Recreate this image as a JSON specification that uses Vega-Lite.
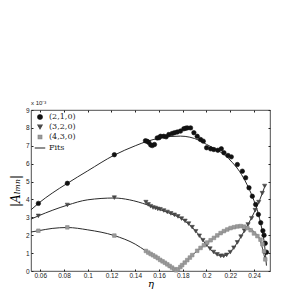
{
  "$schema": "https://vega.github.io/schema/vega-lite/v6.json",
  "width": 239,
  "height": 161,
  "autosize": {"type": "none"},
  "padding": {"left": 31, "top": 110, "right": 22, "bottom": 26},
  "background": "white",
  "config": {
    "view": {"stroke": "#222", "strokeWidth": 0.8},
    "axis": {"labelFont": "Liberation Sans", "labelFontSize": 6.5, "labelColor": "#222", "tickColor": "#222", "domain": false, "grid": false},
    "legend": {"orient": "top-left", "offset": 3, "padding": 0, "rowPadding": 0, "labelFont": "DejaVu Serif", "labelFontSize": 8, "labelColor": "#222", "labelOffset": 3, "symbolStrokeWidth": 1.1, "title": null}
  },
  "title": {"text": "x 10⁻³", "anchor": "start", "frame": "group", "font": "Liberation Sans", "fontSize": 6, "fontWeight": "normal", "color": "#222", "offset": 1},
  "datasets": {
    "points": [
      {"series": "(2,1,0)", "eta": 0.0584, "A": 3.78},
      {"series": "(2,1,0)", "eta": 0.0828, "A": 4.9},
      {"series": "(2,1,0)", "eta": 0.1224, "A": 6.5},
      {"series": "(2,1,0)", "eta": 0.1486, "A": 7.28},
      {"series": "(2,1,0)", "eta": 0.15, "A": 7.25},
      {"series": "(2,1,0)", "eta": 0.1514, "A": 7.19},
      {"series": "(2,1,0)", "eta": 0.153, "A": 7.05},
      {"series": "(2,1,0)", "eta": 0.1543, "A": 7.01},
      {"series": "(2,1,0)", "eta": 0.1562, "A": 7.07},
      {"series": "(2,1,0)", "eta": 0.1585, "A": 7.44},
      {"series": "(2,1,0)", "eta": 0.16, "A": 7.45},
      {"series": "(2,1,0)", "eta": 0.1613, "A": 7.53},
      {"series": "(2,1,0)", "eta": 0.164, "A": 7.53},
      {"series": "(2,1,0)", "eta": 0.166, "A": 7.5},
      {"series": "(2,1,0)", "eta": 0.1683, "A": 7.63},
      {"series": "(2,1,0)", "eta": 0.1711, "A": 7.69},
      {"series": "(2,1,0)", "eta": 0.1731, "A": 7.73},
      {"series": "(2,1,0)", "eta": 0.1754, "A": 7.77},
      {"series": "(2,1,0)", "eta": 0.1781, "A": 7.82},
      {"series": "(2,1,0)", "eta": 0.1809, "A": 7.95},
      {"series": "(2,1,0)", "eta": 0.1825, "A": 7.98},
      {"series": "(2,1,0)", "eta": 0.1838, "A": 8.0},
      {"series": "(2,1,0)", "eta": 0.1866, "A": 8.0},
      {"series": "(2,1,0)", "eta": 0.1894, "A": 7.73},
      {"series": "(2,1,0)", "eta": 0.1922, "A": 7.53},
      {"series": "(2,1,0)", "eta": 0.195, "A": 7.35},
      {"series": "(2,1,0)", "eta": 0.1973, "A": 7.26},
      {"series": "(2,1,0)", "eta": 0.2001, "A": 6.89},
      {"series": "(2,1,0)", "eta": 0.2035, "A": 6.83},
      {"series": "(2,1,0)", "eta": 0.2062, "A": 6.79},
      {"series": "(2,1,0)", "eta": 0.2096, "A": 6.75},
      {"series": "(2,1,0)", "eta": 0.2125, "A": 6.83},
      {"series": "(2,1,0)", "eta": 0.2147, "A": 6.61},
      {"series": "(2,1,0)", "eta": 0.2181, "A": 6.46},
      {"series": "(2,1,0)", "eta": 0.2209, "A": 6.38},
      {"series": "(2,1,0)", "eta": 0.226, "A": 5.95},
      {"series": "(2,1,0)", "eta": 0.2302, "A": 5.58},
      {"series": "(2,1,0)", "eta": 0.233, "A": 5.21},
      {"series": "(2,1,0)", "eta": 0.2358, "A": 4.65},
      {"series": "(2,1,0)", "eta": 0.2386, "A": 4.18},
      {"series": "(2,1,0)", "eta": 0.2414, "A": 3.72},
      {"series": "(2,1,0)", "eta": 0.2437, "A": 3.16},
      {"series": "(2,1,0)", "eta": 0.2457, "A": 2.7},
      {"series": "(2,1,0)", "eta": 0.2475, "A": 2.25},
      {"series": "(2,1,0)", "eta": 0.2485, "A": 2.0},
      {"series": "(2,1,0)", "eta": 0.2495, "A": 1.55},
      {"series": "(2,1,0)", "eta": 0.2505, "A": 1.05},
      {"series": "(3,2,0)", "eta": 0.0584, "A": 3.08},
      {"series": "(3,2,0)", "eta": 0.0828, "A": 3.69},
      {"series": "(3,2,0)", "eta": 0.1224, "A": 4.1},
      {"series": "(3,2,0)", "eta": 0.149, "A": 3.85},
      {"series": "(3,2,0)", "eta": 0.151, "A": 3.72},
      {"series": "(3,2,0)", "eta": 0.153, "A": 3.62},
      {"series": "(3,2,0)", "eta": 0.155, "A": 3.55},
      {"series": "(3,2,0)", "eta": 0.157, "A": 3.52},
      {"series": "(3,2,0)", "eta": 0.159, "A": 3.47},
      {"series": "(3,2,0)", "eta": 0.161, "A": 3.45},
      {"series": "(3,2,0)", "eta": 0.164, "A": 3.38},
      {"series": "(3,2,0)", "eta": 0.167, "A": 3.3},
      {"series": "(3,2,0)", "eta": 0.17, "A": 3.22},
      {"series": "(3,2,0)", "eta": 0.173, "A": 3.14},
      {"series": "(3,2,0)", "eta": 0.176, "A": 3.05},
      {"series": "(3,2,0)", "eta": 0.179, "A": 2.93},
      {"series": "(3,2,0)", "eta": 0.182, "A": 2.8},
      {"series": "(3,2,0)", "eta": 0.185, "A": 2.65},
      {"series": "(3,2,0)", "eta": 0.188, "A": 2.45},
      {"series": "(3,2,0)", "eta": 0.191, "A": 2.22},
      {"series": "(3,2,0)", "eta": 0.194, "A": 1.97},
      {"series": "(3,2,0)", "eta": 0.197, "A": 1.72},
      {"series": "(3,2,0)", "eta": 0.2, "A": 1.47},
      {"series": "(3,2,0)", "eta": 0.203, "A": 1.25},
      {"series": "(3,2,0)", "eta": 0.206, "A": 1.06},
      {"series": "(3,2,0)", "eta": 0.209, "A": 0.93},
      {"series": "(3,2,0)", "eta": 0.212, "A": 0.85},
      {"series": "(3,2,0)", "eta": 0.2145, "A": 0.84},
      {"series": "(3,2,0)", "eta": 0.217, "A": 0.9},
      {"series": "(3,2,0)", "eta": 0.22, "A": 1.05},
      {"series": "(3,2,0)", "eta": 0.223, "A": 1.3},
      {"series": "(3,2,0)", "eta": 0.226, "A": 1.6},
      {"series": "(3,2,0)", "eta": 0.229, "A": 1.92},
      {"series": "(3,2,0)", "eta": 0.232, "A": 2.25},
      {"series": "(3,2,0)", "eta": 0.235, "A": 2.6},
      {"series": "(3,2,0)", "eta": 0.238, "A": 2.95},
      {"series": "(3,2,0)", "eta": 0.241, "A": 3.4},
      {"series": "(3,2,0)", "eta": 0.244, "A": 3.85},
      {"series": "(3,2,0)", "eta": 0.247, "A": 4.35},
      {"series": "(3,2,0)", "eta": 0.249, "A": 4.75},
      {"series": "(4,3,0)", "eta": 0.0584, "A": 2.25},
      {"series": "(4,3,0)", "eta": 0.0828, "A": 2.44},
      {"series": "(4,3,0)", "eta": 0.1224, "A": 1.98},
      {"series": "(4,3,0)", "eta": 0.149, "A": 1.12},
      {"series": "(4,3,0)", "eta": 0.151, "A": 1.03},
      {"series": "(4,3,0)", "eta": 0.153, "A": 0.95},
      {"series": "(4,3,0)", "eta": 0.155, "A": 0.88},
      {"series": "(4,3,0)", "eta": 0.157, "A": 0.8},
      {"series": "(4,3,0)", "eta": 0.159, "A": 0.72},
      {"series": "(4,3,0)", "eta": 0.161, "A": 0.62},
      {"series": "(4,3,0)", "eta": 0.163, "A": 0.54},
      {"series": "(4,3,0)", "eta": 0.165, "A": 0.46},
      {"series": "(4,3,0)", "eta": 0.167, "A": 0.37},
      {"series": "(4,3,0)", "eta": 0.169, "A": 0.28},
      {"series": "(4,3,0)", "eta": 0.171, "A": 0.19},
      {"series": "(4,3,0)", "eta": 0.173, "A": 0.1},
      {"series": "(4,3,0)", "eta": 0.1745, "A": 0.04},
      {"series": "(4,3,0)", "eta": 0.176, "A": 0.1},
      {"series": "(4,3,0)", "eta": 0.178, "A": 0.22},
      {"series": "(4,3,0)", "eta": 0.1795, "A": 0.33},
      {"series": "(4,3,0)", "eta": 0.1817, "A": 0.47},
      {"series": "(4,3,0)", "eta": 0.1838, "A": 0.61},
      {"series": "(4,3,0)", "eta": 0.186, "A": 0.75},
      {"series": "(4,3,0)", "eta": 0.188, "A": 0.89},
      {"series": "(4,3,0)", "eta": 0.1922, "A": 1.13},
      {"series": "(4,3,0)", "eta": 0.195, "A": 1.29},
      {"series": "(4,3,0)", "eta": 0.1978, "A": 1.44},
      {"series": "(4,3,0)", "eta": 0.2006, "A": 1.59},
      {"series": "(4,3,0)", "eta": 0.2035, "A": 1.72},
      {"series": "(4,3,0)", "eta": 0.2063, "A": 1.85},
      {"series": "(4,3,0)", "eta": 0.2091, "A": 1.99},
      {"series": "(4,3,0)", "eta": 0.2119, "A": 2.12},
      {"series": "(4,3,0)", "eta": 0.2147, "A": 2.23},
      {"series": "(4,3,0)", "eta": 0.2175, "A": 2.32},
      {"series": "(4,3,0)", "eta": 0.2203, "A": 2.4},
      {"series": "(4,3,0)", "eta": 0.2232, "A": 2.45},
      {"series": "(4,3,0)", "eta": 0.226, "A": 2.49},
      {"series": "(4,3,0)", "eta": 0.2288, "A": 2.51},
      {"series": "(4,3,0)", "eta": 0.2316, "A": 2.48},
      {"series": "(4,3,0)", "eta": 0.2344, "A": 2.4},
      {"series": "(4,3,0)", "eta": 0.2372, "A": 2.28},
      {"series": "(4,3,0)", "eta": 0.24, "A": 2.1},
      {"series": "(4,3,0)", "eta": 0.2429, "A": 1.95},
      {"series": "(4,3,0)", "eta": 0.2455, "A": 1.75},
      {"series": "(4,3,0)", "eta": 0.2471, "A": 1.5},
      {"series": "(4,3,0)", "eta": 0.2485, "A": 1.1},
      {"series": "(4,3,0)", "eta": 0.2495, "A": 0.65}
    ],
    "fits": [
      {"series": "(2,1,0)", "eta": 0.0522, "A": 3.42},
      {"series": "(2,1,0)", "eta": 0.0584, "A": 3.78},
      {"series": "(2,1,0)", "eta": 0.07, "A": 4.35},
      {"series": "(2,1,0)", "eta": 0.0828, "A": 4.9},
      {"series": "(2,1,0)", "eta": 0.1, "A": 5.6},
      {"series": "(2,1,0)", "eta": 0.1224, "A": 6.48},
      {"series": "(2,1,0)", "eta": 0.14, "A": 7.0},
      {"series": "(2,1,0)", "eta": 0.15, "A": 7.25},
      {"series": "(2,1,0)", "eta": 0.16, "A": 7.42},
      {"series": "(2,1,0)", "eta": 0.17, "A": 7.52},
      {"series": "(2,1,0)", "eta": 0.178, "A": 7.54},
      {"series": "(2,1,0)", "eta": 0.186, "A": 7.48},
      {"series": "(2,1,0)", "eta": 0.194, "A": 7.3},
      {"series": "(2,1,0)", "eta": 0.2, "A": 7.08},
      {"series": "(2,1,0)", "eta": 0.208, "A": 6.8},
      {"series": "(2,1,0)", "eta": 0.215, "A": 6.5},
      {"series": "(2,1,0)", "eta": 0.222, "A": 6.05},
      {"series": "(2,1,0)", "eta": 0.228, "A": 5.55},
      {"series": "(2,1,0)", "eta": 0.234, "A": 4.85},
      {"series": "(2,1,0)", "eta": 0.239, "A": 4.1},
      {"series": "(2,1,0)", "eta": 0.243, "A": 3.35},
      {"series": "(2,1,0)", "eta": 0.2465, "A": 2.4},
      {"series": "(2,1,0)", "eta": 0.249, "A": 1.4},
      {"series": "(2,1,0)", "eta": 0.2505, "A": 0.3},
      {"series": "(3,2,0)", "eta": 0.0522, "A": 2.9},
      {"series": "(3,2,0)", "eta": 0.0584, "A": 3.08},
      {"series": "(3,2,0)", "eta": 0.0828, "A": 3.68},
      {"series": "(3,2,0)", "eta": 0.1, "A": 3.98},
      {"series": "(3,2,0)", "eta": 0.1224, "A": 4.08},
      {"series": "(3,2,0)", "eta": 0.135, "A": 3.98},
      {"series": "(3,2,0)", "eta": 0.15, "A": 3.7},
      {"series": "(3,2,0)", "eta": 0.16, "A": 3.45},
      {"series": "(3,2,0)", "eta": 0.17, "A": 3.2},
      {"series": "(3,2,0)", "eta": 0.18, "A": 2.88},
      {"series": "(3,2,0)", "eta": 0.19, "A": 2.3},
      {"series": "(3,2,0)", "eta": 0.2, "A": 1.47},
      {"series": "(3,2,0)", "eta": 0.205, "A": 1.1},
      {"series": "(3,2,0)", "eta": 0.21, "A": 0.88},
      {"series": "(3,2,0)", "eta": 0.2135, "A": 0.83},
      {"series": "(3,2,0)", "eta": 0.217, "A": 0.9},
      {"series": "(3,2,0)", "eta": 0.222, "A": 1.22},
      {"series": "(3,2,0)", "eta": 0.23, "A": 2.03},
      {"series": "(3,2,0)", "eta": 0.24, "A": 3.25},
      {"series": "(3,2,0)", "eta": 0.245, "A": 4.0},
      {"series": "(3,2,0)", "eta": 0.2495, "A": 4.8},
      {"series": "(4,3,0)", "eta": 0.0522, "A": 2.18},
      {"series": "(4,3,0)", "eta": 0.0584, "A": 2.25},
      {"series": "(4,3,0)", "eta": 0.07, "A": 2.38},
      {"series": "(4,3,0)", "eta": 0.0828, "A": 2.43},
      {"series": "(4,3,0)", "eta": 0.1, "A": 2.3},
      {"series": "(4,3,0)", "eta": 0.1224, "A": 1.98},
      {"series": "(4,3,0)", "eta": 0.14, "A": 1.5},
      {"series": "(4,3,0)", "eta": 0.149, "A": 1.12},
      {"series": "(4,3,0)", "eta": 0.162, "A": 0.58},
      {"series": "(4,3,0)", "eta": 0.1745, "A": 0.05},
      {"series": "(4,3,0)", "eta": 0.182, "A": 0.5},
      {"series": "(4,3,0)", "eta": 0.19, "A": 1.0},
      {"series": "(4,3,0)", "eta": 0.2, "A": 1.53},
      {"series": "(4,3,0)", "eta": 0.21, "A": 2.0},
      {"series": "(4,3,0)", "eta": 0.22, "A": 2.35},
      {"series": "(4,3,0)", "eta": 0.23, "A": 2.48},
      {"series": "(4,3,0)", "eta": 0.235, "A": 2.42},
      {"series": "(4,3,0)", "eta": 0.24, "A": 2.2},
      {"series": "(4,3,0)", "eta": 0.245, "A": 1.75},
      {"series": "(4,3,0)", "eta": 0.2495, "A": 0.6}
    ]
  },
  "resolve": {"axis": {"x": "independent", "y": "independent"}},
  "layer": [
    {
      "data": {"name": "fits"},
      "mark": {"type": "line", "interpolate": "monotone", "color": "#2a2a2a", "strokeWidth": 1, "clip": true},
      "encoding": {
        "x": {"field": "eta", "type": "quantitative", "scale": {"domain": [0.0522, 0.2535], "nice": false, "zero": false},
              "axis": {"orient": "top", "values": [0.06, 0.08, 0.1, 0.12, 0.14, 0.16, 0.18, 0.2, 0.22, 0.24], "labels": false, "title": null, "tickSize": -2}},
        "y": {"field": "A", "type": "quantitative", "scale": {"domain": [0, 9], "nice": false},
              "axis": {"orient": "right", "values": [0, 1, 2, 3, 4, 5, 6, 7, 8, 9], "labels": false, "title": null, "tickSize": -2}},
        "detail": {"field": "series"}
      }
    },
    {
      "data": {"name": "points"},
      "mark": {"type": "point", "filled": true, "opacity": 1, "strokeWidth": 0.6},
      "encoding": {
        "x": {"field": "eta", "type": "quantitative", "scale": {"domain": [0.0522, 0.2535], "nice": false, "zero": false},
              "axis": {"orient": "bottom", "values": [0.06, 0.08, 0.1, 0.12, 0.14, 0.16, 0.18, 0.2, 0.22, 0.24], "format": "~g", "tickSize": -2, "labelPadding": 3,
                       "title": "η", "titleFont": "DejaVu Serif", "titleFontStyle": "italic", "titleFontWeight": "normal", "titleFontSize": 10, "titlePadding": 0}},
        "y": {"field": "A", "type": "quantitative", "scale": {"domain": [0, 9], "nice": false},
              "axis": {"orient": "left", "values": [0, 1, 2, 3, 4, 5, 6, 7, 8, 9], "tickSize": -2, "labelPadding": 4,
                       "title": "|Aₗₘₙ|", "titleFont": "DejaVu Serif", "titleFontStyle": "italic", "titleFontWeight": "normal", "titleFontSize": 12, "titlePadding": 3}},
        "shape": {"field": "series", "type": "nominal", "title": null, "scale": {"domain": ["(2,1,0)", "(3,2,0)", "(4,3,0)", "Fits"], "range": ["circle", "triangle-down", "square", "stroke"]}},
        "fill": {"field": "series", "type": "nominal", "title": null, "scale": {"domain": ["(2,1,0)", "(3,2,0)", "(4,3,0)", "Fits"], "range": ["#111111", "#474747", "#9a9a9a", "#333333"]}},
        "stroke": {"field": "series", "type": "nominal", "title": null, "scale": {"domain": ["(2,1,0)", "(3,2,0)", "(4,3,0)", "Fits"], "range": ["#111111", "#474747", "#8a8a8a", "#333333"]}},
        "size": {"field": "series", "type": "nominal", "title": null, "scale": {"type": "ordinal", "domain": ["(2,1,0)", "(3,2,0)", "(4,3,0)", "Fits"], "range": [20, 18, 13, 110]}}
      }
    }
  ]
}
